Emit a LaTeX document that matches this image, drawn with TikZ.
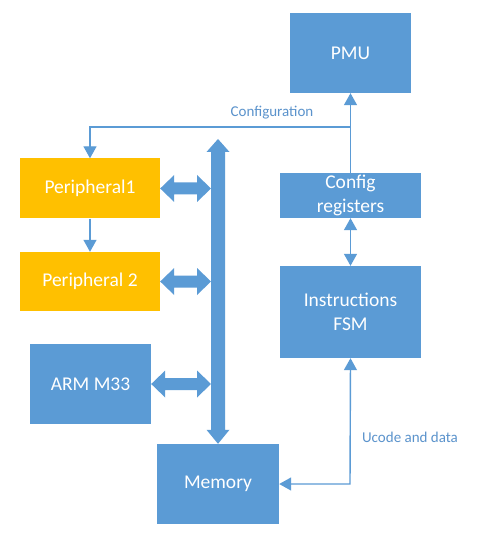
\documentclass[tikz,border=0pt]{standalone}
\usepackage{fontspec}
\setmainfont{Carlito}
\usetikzlibrary{arrows.meta,calc}
\definecolor{mblue}{HTML}{5B9BD5}
\definecolor{morange}{HTML}{FFC000}
\definecolor{lblue}{HTML}{5B93CC}
\begin{document}
\begin{tikzpicture}[x=1pt,y=-1pt,
  blk/.style={fill=mblue,draw=none,inner sep=0pt,text=white,align=center,
    font=\fontsize{19.5}{23.5}\selectfont},
  per/.style={blk,fill=morange},
  thin/.style={draw=mblue,line width=1.4pt,-{Triangle[width=13pt,length=12pt]}},
  thinb/.style={draw=mblue,line width=1.4pt,{Triangle[width=13pt,length=12pt]}-{Triangle[width=13pt,length=12pt]}},
  lbl/.style={text=lblue,font=\fontsize{15}{18}\selectfont,inner sep=0pt}]
\useasboundingbox (0,0) rectangle (485,534);
\fill[white] (0,0) rectangle (485,534);
% blocks
\node[blk,minimum width=121pt,minimum height=80pt] (pmu) at (350.5,53) {PMU};
\node[per,minimum width=140pt,minimum height=60pt] (p1) at (90,188.5) {Peripheral1};
\node[per,minimum width=140pt,minimum height=59pt] (p2) at (90,281.5) {Peripheral 2};
\node[blk,minimum width=121pt,minimum height=80pt] (arm) at (90.5,384) {ARM M33};
\node[blk,minimum width=122pt,minimum height=80pt] (mem) at (218,484) {Memory};
\node[blk,minimum width=141pt,minimum height=45pt] (cfg) at (350.5,195.5) {Config\\registers};
\node[blk,minimum width=141pt,minimum height=92pt] (fsm) at (350.5,312) {Instructions\\FSM};
% bus
\coordinate (bt) at (218,139);
\coordinate (bb) at (mem.north);
\fill[mblue] (bt) -- ++(11.5,13) -- ++(-4.5,0) -- ($(bb)+(7,-14)$) -- ++(4.5,0)
  -- (bb) -- ++(-11.5,-14) -- ++(4.5,0) -- ($(bt)+(-7,13)$) -- ++(-4.5,0) -- cycle;
% side double arrows (to bus left edge x=211)
\coordinate (b) at (211,0);
\foreach \n in {p1,p2,arm}{
  \fill[mblue] (\n.east) -- ++(14,-13.5) -- ++(0,7.5)
    -- ($(b |- \n.east)+(-14,-6)$) -- ++(0,-7.5) -- (b |- \n.east)
    -- ++(-14,13.5) -- ++(0,-7.5) -- ($(\n.east)+(14,6)$) -- ++(0,7.5) -- cycle;
}
% configuration path
\coordinate (cj) at (350,127);
\draw[thin] (cfg.north) -- (pmu.south);
\draw[thin] (cj) -| (p1.north);
\node[lbl] (conf) at (272,113) {Configuration};
% peripheral1 -> peripheral2
\draw[thin] (p1.south) -- (p2.north);
% config <-> fsm
\draw[thinb] (cfg.south) -- (fsm.north);
% ucode
\coordinate (uc) at (350,484);
\draw[thinb] (mem.east) -- (uc) -- (fsm.south);
\node[lbl] (ucl) at (410,437) {Ucode and data};
\end{tikzpicture}
\end{document}
